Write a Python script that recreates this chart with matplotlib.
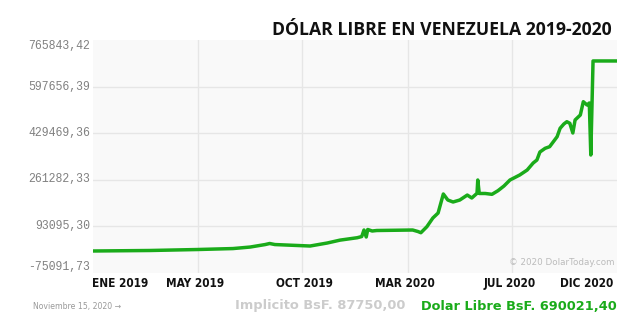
import matplotlib
matplotlib.use("Agg")
import matplotlib.pyplot as plt

# ---- data (day index since 1 Jan 2019, value in BsF) ----
days = [0, 76, 139, 187, 210, 230, 236, 243, 290, 313, 330, 353, 359, 362, 365, 367,
        373, 379, 427, 434, 438, 446, 454, 461, 468, 474, 481, 490, 500, 506, 513, 514,
        516, 524, 533, 541, 549, 557, 570, 580, 588, 593, 597, 604, 610, 620, 624, 629,
        633, 637, 641, 644, 651, 655, 660, 663, 665, 668, 700]
values = [2700, 4500, 8000, 11500, 17000, 26000, 29800, 26000, 20700, 31600, 42000, 50700,
          55000, 78600, 53300, 80400, 75000, 76800, 78600, 73200, 68800, 90500, 122000,
          140000, 208800, 187100, 179900, 187100, 205000, 194400, 211400, 259400, 210700,
          210700, 207700, 220800, 237800, 259400, 277500, 295600, 320900, 331800, 360700,
          374100, 379900, 416100, 446500, 462000, 470300, 464500, 429500, 476500, 494600,
          542700, 530700, 538000, 349900, 690021, 690021]

y_ticks = [-75091.73, 93095.30, 261282.33, 429469.36, 597656.39, 765843.42]
y_labels = ["-75091,73", "93095,30", "261282,33", "429469,36", "597656,39", "765843,42"]
x_label_pos = [36, 137, 282, 416, 556, 660]
x_labels = ["ENE 2019", "MAY 2019", "OCT 2019", "MAR 2020", "JUL 2020", "DIC 2020"]
x_grid = [140, 279, 421, 560]

title = "DÓLAR LIBRE EN VENEZUELA 2019-2020"
green = "#1aab1a"

fig = plt.figure(figsize=(6.4, 3.35), dpi=100)
ax = fig.add_axes([93/640, 1-272.5/335, 524/640, 232.5/335])
ax.set_facecolor("#f9f9f9")
for s in ax.spines.values():
    s.set_visible(False)

ax.set_xlim(0, 700)
ax.set_ylim(y_ticks[0], y_ticks[-1])

for yv in y_ticks[1:-1]:
    ax.axhline(yv, color="#e6e6e6", lw=1, zorder=0)
for xv in x_grid:
    ax.axvline(xv, color="#e6e6e6", lw=1, zorder=0)

ax.plot(days, values, color=green, lw=2.5, solid_joinstyle="round", zorder=3)

ax.set_yticks([])
ax.set_xticks(x_label_pos)
ax.set_xticklabels(x_labels, fontfamily="DejaVu Sans", fontweight="bold",
                   fontstretch="condensed", fontsize=8.5, color="#111111")
ax.tick_params(axis="x", length=0, pad=3)

for i, (yv, lab) in enumerate(zip(y_ticks, y_labels)):
    va = "center"
    if i == 0:
        va = "bottom"
    elif i == len(y_ticks) - 1:
        va = "top"
    ax.text(-3/524*700, yv, lab, ha="right", va=va, fontfamily="Liberation Mono",
            fontsize=8.3, color="#808080", transform=ax.transData, clip_on=False)

fig.text(612/640, 1-30/335, title, ha="right", va="center", fontfamily="Open Sans",
         fontweight="bold", fontsize=12.7, color="#111111")

ax.text(0.995, 0.025, "© 2020 DolarToday.com", transform=ax.transAxes, ha="right",
        va="bottom", fontsize=6.3, color="#bbbbbb")

fig.text(33/640, 1-307/335, "Noviembre 15, 2020 →", ha="left", va="center",
         fontsize=5.6, color="#999999")
fig.text(405/640, 1-306/335, "Implicito BsF. 87750,00", ha="right", va="center",
         fontweight="bold", fontsize=9.4, color="#cccccc")
fig.text(617/640, 1-306/335, "Dolar Libre BsF. 690021,40", ha="right", va="center",
         fontweight="bold", fontsize=9.3, color=green)

fig.savefig("out.png", dpi=100, facecolor="white")
